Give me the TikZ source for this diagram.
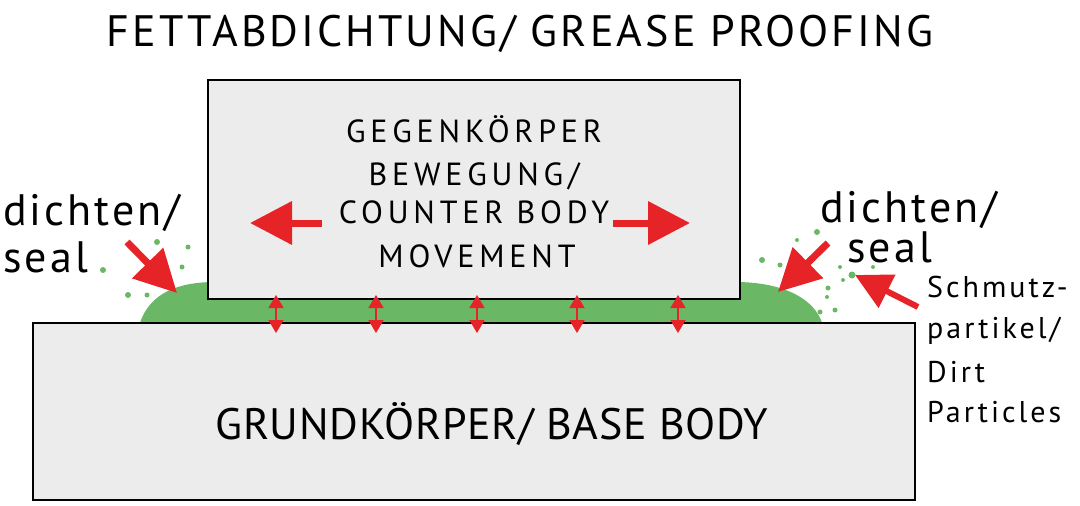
\documentclass[tikz,border=0pt]{standalone}
\usepackage{fontspec}
\setmainfont{PT Sans}
\newfontfamily\widefont[LetterSpace=7]{PT Sans}
\newfontfamily\innerfont[LetterSpace=15]{PT Sans}
\newfontfamily\basefont[LetterSpace=1.5]{PT Sans}
\newfontfamily\notefont[LetterSpace=10]{PT Sans}
\usetikzlibrary{arrows.meta}
\definecolor{grease}{RGB}{106,184,102}
\definecolor{bodygray}{RGB}{236,236,236}
\definecolor{pushred}{RGB}{230,36,40}
\tikzset{
    body/.style={draw=black, fill=bodygray, line width=2pt, inner sep=0pt},
    bigarrow/.style={draw=pushred, line width=7pt, -{Triangle[length=42pt, width=42pt]}},
    dirtarrow/.style={draw=pushred, line width=6pt, -{Triangle[length=36pt, width=36pt]}},
    press/.style={draw=pushred, line width=1.6pt, {Triangle[length=13pt, width=15pt]}-{Triangle[length=13pt, width=15pt]}},
    crumb/.style={fill=grease, circle, inner sep=0pt, minimum size=#1},
    crumb/.default=5pt,
    bigtext/.style={anchor=base, inner sep=0pt, font=\widefont\fontsize{44}{50}\selectfont},
    basetext/.style={anchor=base, inner sep=0pt, font=\basefont\fontsize{44}{50}\selectfont},
    bodytext/.style={anchor=base, inner sep=0pt, font=\innerfont\fontsize{32}{38}\selectfont},
    sidetext/.style={anchor=base west, inner sep=0pt, font=\widefont\fontsize{44}{50}\selectfont},
    smalltext/.style={anchor=base west, inner sep=0pt, font=\notefont\fontsize{30}{36}\selectfont}
}

\begin{document}
\begin{tikzpicture}[x=1pt, y=-1pt]
  \useasboundingbox (0,0) rectangle (1080,506);
  \node [bigtext] (title) at (520,46) {FETTABDICHTUNG/ GREASE PROOFING};
  % grease film and beads
  \fill [grease] (140,323) .. controls (150,292) and (180,282) .. (215,282) -- (735,282)
        .. controls (785,282) and (815,300) .. (822,323) -- cycle;
  \node [body, minimum width=882pt, minimum height=177pt] (grund) at (474,411.5) {};
  \node [body, minimum width=532pt, minimum height=219pt] (gegen) at (474,189.5) {};
  \foreach \x in {276,376,477,577,678}
    \draw [press] (\x,295) -- (\x,333);
  % dirt
  \foreach \x/\y/\s in {157/242/6pt, 188/247/5pt, 103/270/6pt, 182/267/5pt, 128/295/6pt, 147/295/5pt,
      817/232/6pt, 797/240/4pt, 762/260/6pt, 780/265/5pt, 840/267/4pt, 873/267/4pt, 852/275/7pt,
      828/288/5pt, 843/280/4pt, 827/297/4pt, 835/310/5pt, 820/312/5pt}
    \node [crumb=\s] at (\x,\y) {};
  \node [bodytext] (gk) at (474,142) {GEGENKÖRPER};
  \node [bodytext] (bew) at (474,185) {BEWEGUNG/};
  \node [bodytext] (cb) at (474,223) {COUNTER BODY};
  \node [bodytext] (mov) at (477,267) {MOVEMENT};
  \draw [bigarrow] (322,223) -- (250,223);
  \draw [bigarrow] (613,223) -- (690,223);
  \node [basetext] (grundtext) at (492,439) {GRUNDKÖRPER/ BASE BODY};
  % seal labels
  \node [sidetext] (dl) at (3,225) {dichten/};
  \node [sidetext] (sl) at (3,272) {seal};
  \node [sidetext] (dr) at (820,222) {dichten/};
  \node [sidetext] (sr) at (847,262) {seal};
  \draw [bigarrow] (127,242) -- (177,293);
  \draw [bigarrow] (828,243) -- (778,292);
  \node [smalltext] (s1) at (927,297) {Schmutz-};
  \node [smalltext] (s2) at (927,338) {partikel/};
  \node [smalltext] (s3) at (927,382) {Dirt};
  \node [smalltext] (s4) at (927,422) {Particles};
  \draw [dirtarrow] (918,307) -- (855,275);
\end{tikzpicture}
\end{document}
